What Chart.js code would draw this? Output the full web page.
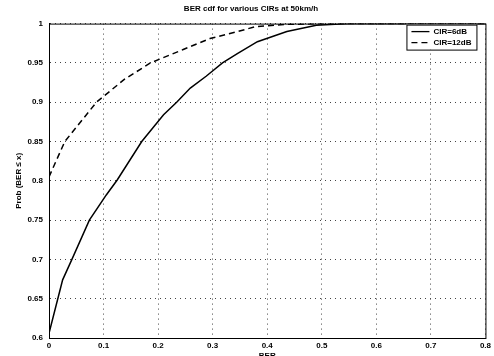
<!DOCTYPE html>
<html>
<head>
<meta charset="utf-8">
<script src="https://cdn.jsdelivr.net/npm/chart.js@4"></script>
<style>
  html, body { margin: 0; padding: 0; background: #fff; }
  #wrap { width: 494px; height: 356px; }
</style>
</head>
<body>
<div id="wrap"><canvas id="berChart" width="494" height="356"></canvas></div>
<script>
// CIR = 6 dB
const ber6 = [0, 0.025, 0.042, 0.074, 0.105, 0.125, 0.17, 0.21, 0.234, 0.259, 0.288, 0.318, 0.346, 0.382, 0.436, 0.49, 0.55, 0.8];
const prob6 = [0.606, 0.674, 0.700, 0.750, 0.782, 0.801, 0.850, 0.884, 0.900, 0.918, 0.933, 0.950, 0.962, 0.977, 0.990, 0.998, 1.0, 1.0];

// CIR = 12 dB
const ber12 = [0, 0.029, 0.087, 0.138, 0.186, 0.246, 0.295, 0.346, 0.378, 0.436, 0.5, 0.8];
const prob12 = [0.805, 0.850, 0.900, 0.929, 0.950, 0.967, 0.981, 0.990, 0.996, 0.999, 1.0, 1.0];

const seriesLabels = ['CIR=6dB', 'CIR=12dB'];
const xTicks = [0, 0.1, 0.2, 0.3, 0.4, 0.5, 0.6, 0.7, 0.8];
const yTicks = [0.6, 0.65, 0.7, 0.75, 0.8, 0.85, 0.9, 0.95, 1];

const toPoints = (xs, ys) => xs.map((x, i) => ({ x: x, y: ys[i] }));
const FONT = "'Liberation Sans', Arial, sans-serif";

// box round the axes + legend drawn inside the plot (matlab style)
const matlabBox = {
    id: 'matlabBox',
    afterDraw(chart) {
        const { ctx, chartArea: a } = chart;
        ctx.save();
        ctx.strokeStyle = '#000';
        ctx.lineWidth = 1;
        ctx.setLineDash([]);
        ctx.strokeRect(a.left + 0.5, a.top + 0.5, a.right - a.left, a.bottom - a.top);

        const w = 70, h = 25;
        const lx = a.right - 9 - w, ly = a.top + 1;
        ctx.fillStyle = '#fff';
        ctx.fillRect(lx, ly, w, h);
        ctx.strokeRect(lx + 0.5, ly + 0.5, w, h);

        ctx.font = 'bold 8px ' + FONT;
        ctx.textBaseline = 'middle';
        ctx.fillStyle = '#000';
        chart.data.datasets.forEach((ds, i) => {
            const yy = ly + 7 + i * 11;
            ctx.beginPath();
            ctx.setLineDash(ds.borderDash || []);
            ctx.lineWidth = 1.3;
            ctx.moveTo(lx + 5, yy);
            ctx.lineTo(lx + 23, yy);
            ctx.stroke();
            ctx.setLineDash([]);
            ctx.fillText(ds.label, lx + 27, yy);
        });
        ctx.restore();
    }
};

new Chart(document.getElementById('berChart'), {
    type: 'line',
    data: {
        datasets: [{
            label: seriesLabels[0],
            data: toPoints(ber6, prob6),
            borderColor: '#000',
            borderWidth: 1.5,
            pointRadius: 0,
            tension: 0,
            fill: false
        }, {
            label: seriesLabels[1],
            data: toPoints(ber12, prob12),
            borderColor: '#000',
            borderWidth: 1.5,
            borderDash: [6, 4],
            pointRadius: 0,
            tension: 0,
            fill: false
        }]
    },
    options: {
        responsive: false,
        animation: false,
        layout: { padding: { left: 12, right: 4, top: 0, bottom: 0 } },
        plugins: {
            legend: { display: false },
            tooltip: { enabled: false },
            title: {
                display: true,
                text: 'BER cdf for various CIRs at 50km/h',
                color: '#000',
                font: { family: FONT, size: 8, weight: 'bold' },
                padding: { top: 4, bottom: 10 }
            }
        },
        scales: {
            x: {
                type: 'linear',
                min: 0,
                max: 0.8,
                afterBuildTicks: s => { s.ticks = xTicks.map(v => ({ value: v })); },
                afterFit: s => { s.height = 18; },
                ticks: {
                    color: '#000',
                    padding: 3,
                    font: { family: FONT, size: 8, weight: 'bold' },
                    callback: v => String(v)
                },
                grid: { color: '#444', drawTicks: false, lineWidth: 1 },
                border: { display: true, color: '#000', dash: [1, 4] },
                title: {
                    display: true,
                    text: 'BER',
                    color: '#000',
                    font: { family: FONT, size: 8, weight: 'bold' },
                    padding: { top: -5, bottom: -5 }
                }
            },
            y: {
                min: 0.6,
                max: 1,
                afterBuildTicks: s => { s.ticks = yTicks.map(v => ({ value: v })); },
                afterFit: s => { s.width = 37; },
                ticks: {
                    color: '#000',
                    padding: 6,
                    font: { family: FONT, size: 8, weight: 'bold' },
                    callback: v => String(Math.round(v * 100) / 100)
                },
                grid: { color: '#444', drawTicks: false, lineWidth: 1 },
                border: { display: true, color: '#000', dash: [1, 4] },
                title: {
                    display: true,
                    text: 'Prob (BER \u2264 x)',
                    color: '#000',
                    font: { family: FONT, size: 8, weight: 'bold' },
                    padding: 2
                }
            }
        }
    },
    plugins: [matlabBox]
});
</script>
</body>
</html>
